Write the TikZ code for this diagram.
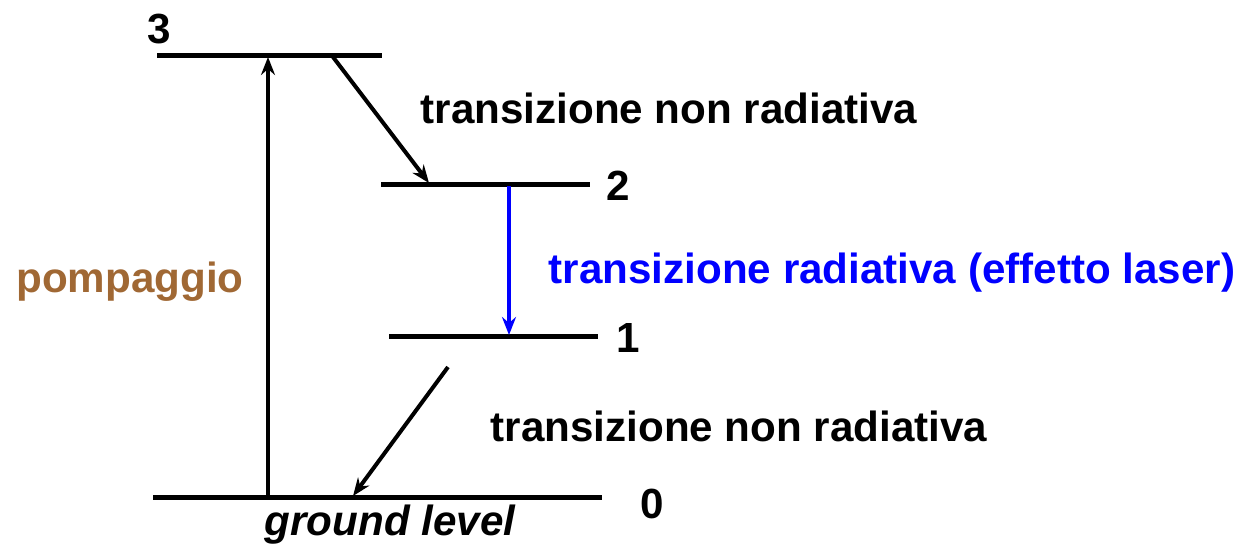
\documentclass[tikz,border=0pt]{standalone}
\usepackage{fontspec}
\setmainfont{Liberation Sans}
\usetikzlibrary{arrows.meta, positioning}
\definecolor{colBrown}{RGB}{160,104,52}
\definecolor{colBlue}{RGB}{0,0,255}
\tikzset{
    level/.style={line width=1mm},
    arrow/.style={-{Stealth[length=3.6mm, width=2.8mm, inset=1.2mm]}, line width=0.8mm},
    lbl/.style={font=\fontsize{24}{28}\selectfont\bfseries, inner sep=0pt, anchor=base}
}

\begin{document}
\begin{tikzpicture}[x=0.02cm, y=-0.02cm]

    \useasboundingbox (0,0) rectangle (1253,545);

    % energy levels
    \coordinate (l3w) at (157,55);  \coordinate (l3e) at (382,55);
    \coordinate (l2w) at (381,184); \coordinate (l2e) at (590,184);
    \coordinate (l1w) at (389,336); \coordinate (l1e) at (598,336);
    \coordinate (l0w) at (153,497); \coordinate (l0e) at (602,497);

    \draw[level] (l3w) -- (l3e);
    \draw[level] (l2w) -- (l2e);
    \draw[level] (l1w) -- (l1e);
    \draw[level] (l0w) -- (l0e);

    % arrow ends
    \coordinate (pumpA) at (268,495);
    \coordinate (pumpB) at (268,57);
    \coordinate (nr1A) at (333,57);
    \coordinate (nr1B) at (429,183);
    \coordinate (laserA) at (509,186);
    \coordinate (laserB) at (509,335);
    \coordinate (nr2A) at (448,367);
    \coordinate (nr2B) at (353,496);

    \draw[arrow] (pumpA) -- (pumpB);
    \draw[arrow] (nr1A) -- (nr1B);
    \draw[arrow, colBlue] (laserA) -- (laserB);
    \draw[arrow] (nr2A) -- (nr2B);

    % labels
    \node[lbl] (n3) at (159,43) {3};
    \node[lbl] (n2) at (618,200) {2};
    \node[lbl] (n1) at (628,352) {1};
    \node[lbl] (n0) at (652,518) {0};

    \node[lbl] (nonrad1) at (669,123) {transizione non radiativa};
    \node[lbl, colBlue] (rad) at (892,283) {transizione radiativa (effetto laser)};
    \node[lbl] (nonrad2) at (739,441) {transizione non radiativa};
    \node[lbl, colBrown] (pump) at (130,292) {pompaggio};
    \node[lbl, font=\fontsize{24}{28}\selectfont\bfseries\itshape] (ground) at (390,535) {ground level};

\end{tikzpicture}
\end{document}
